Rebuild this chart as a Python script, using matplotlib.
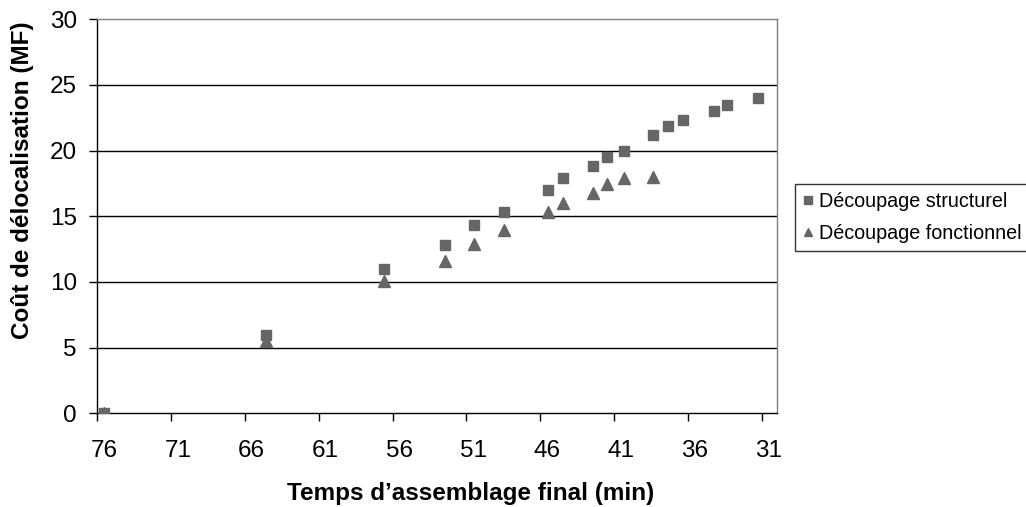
import numpy as np
import matplotlib
matplotlib.use('Agg')
import matplotlib.pyplot as plt

plt.rcParams['font.family'] = ['Liberation Sans', 'DejaVu Sans']

# temps d'assemblage final (min) / cout de delocalisation (MF)
struct_x = [76, 65, 57, 52.9, 50.9, 48.9, 45.9, 44.9, 42.9, 41.9, 40.8,
            38.8, 37.8, 36.8, 34.7, 33.8, 31.7]
struct_y = [0, 6.0, 11.0, 12.8, 14.3, 15.35, 17.0, 17.9, 18.85, 19.55, 20.0,
            21.2, 21.9, 22.35, 23.05, 23.5, 24.0]
func_x = [76, 65, 57, 52.9, 50.9, 48.9, 45.9, 44.9, 42.9, 41.9, 40.8, 38.8]
func_y = [0, 5.5, 10.1, 11.6, 12.9, 13.95, 15.3, 16.05, 16.75, 17.45, 17.9, 18.0]

x_ticks = [76, 71, 66, 61, 56, 51, 46, 41, 36, 31]
y_ticks = [0, 5, 10, 15, 20, 25, 30]

fig = plt.figure(figsize=(10.26, 5.07), dpi=100)
ax = fig.add_axes([97/1026, 1-413.3/507, (777-97)/1026, (413.3-19.3)/507])

col = '#666666'
ax.plot(func_x, func_y, ls='none', marker='^', ms=8, color=col, mec=col,
        label='Découpage fonctionnel', zorder=3)
ax.plot(struct_x, struct_y, ls='none', marker='s', ms=7.8, color=col, mec=col,
        label='Découpage structurel', zorder=4)

ax.set_xlim(76.48, 30.4)
ax.set_ylim(0, 30)
ax.set_yticks(y_ticks)
ax.tick_params(axis='y', labelsize=17.5, direction='out', length=6, width=1, pad=8.5)

# Excel draws the x tick marks a little left of the labels
ax.set_xticks(x_ticks)
ax.set_xticks([v + 0.45 for v in x_ticks], minor=True)
ax.tick_params(axis='x', which='major', labelsize=17.5, length=0, pad=19)
ax.tick_params(axis='x', which='minor', direction='out', length=6, width=1)

for y in y_ticks[1:-1]:
    ax.axhline(y, color='black', lw=1, zorder=1)

for s in ['top', 'right']:
    ax.spines[s].set_color('#808080')
    ax.spines[s].set_linewidth(1)
for s in ['left', 'bottom']:
    ax.spines[s].set_color('black')
    ax.spines[s].set_linewidth(1)

fig.text(471/1026, 1-500/507, "Temps d’assemblage final (min)", fontsize=17.5,
         weight='bold', ha='center', va='baseline')
fig.text(23/1026, 1-180/507, 'Coût de délocalisation (MF)', fontsize=17.5,
         weight='bold', ha='center', va='center', rotation=90)

h, l = ax.get_legend_handles_labels()
leg = fig.legend([h[1], h[0]], [l[1], l[0]], loc='upper left',
                 bbox_to_anchor=(795/1026, 1-184/507), fontsize=14.2,
                 frameon=True, fancybox=False, markerscale=0.7,
                 handlelength=0.5, handletextpad=0.3, borderpad=0.4,
                 labelspacing=0.65, borderaxespad=0)
leg.get_frame().set_edgecolor('black')
leg.get_frame().set_linewidth(1)

fig.savefig('out.png', dpi=100)
